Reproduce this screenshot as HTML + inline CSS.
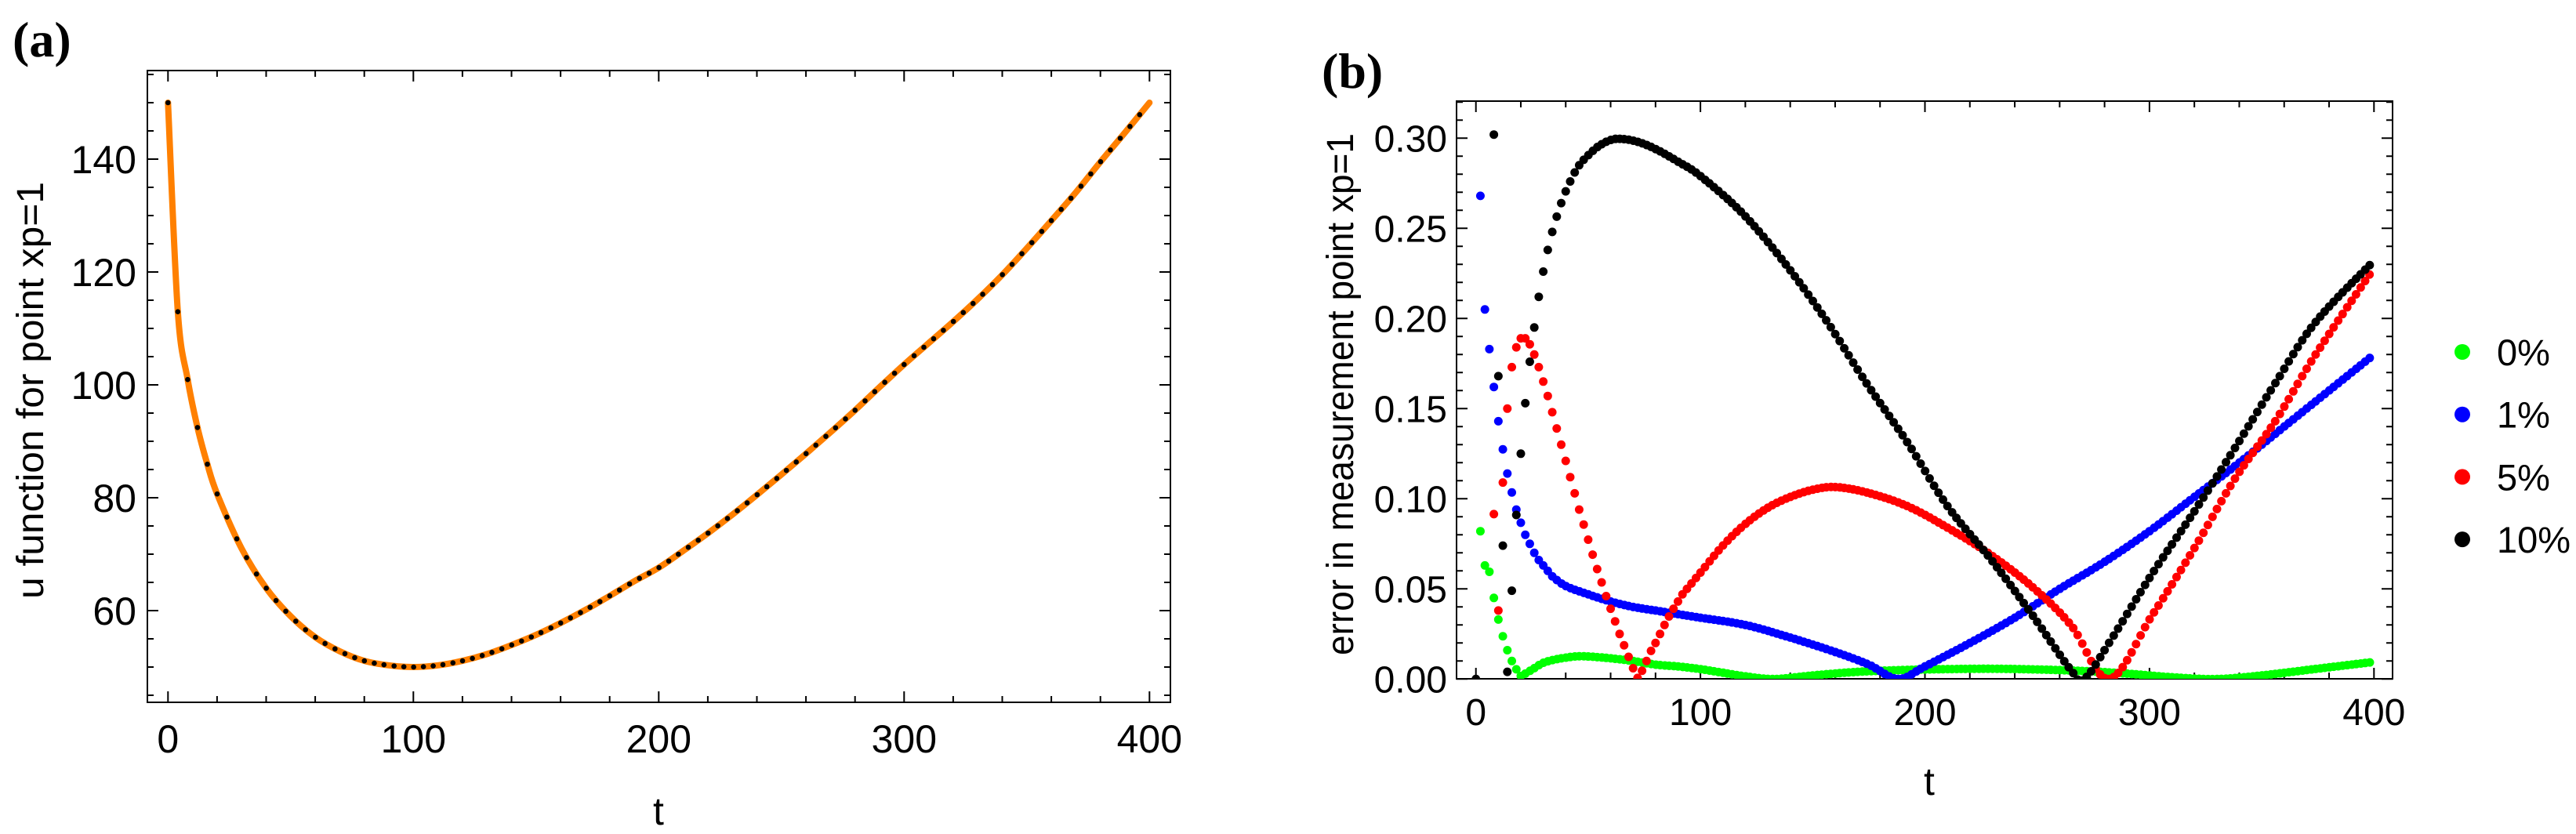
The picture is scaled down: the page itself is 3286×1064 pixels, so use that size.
<!DOCTYPE html>
<html><head><meta charset="utf-8">
<style>
html,body{margin:0;padding:0;background:#fff;}
svg{display:block;}
text{font-family:"Liberation Sans",sans-serif;fill:#000;}
</style></head>
<body>
<svg id="fig" width="3286" height="1064" viewBox="0 0 3286 1064" xmlns="http://www.w3.org/2000/svg">
  <text x="16" y="72" style="font-family:'Liberation Serif',serif;font-weight:bold;font-size:64px">(a)</text>
  <text x="1686" y="112" style="font-family:'Liberation Serif',serif;font-weight:bold;font-size:64px">(b)</text>
  <g id="chartA"></g>
  <g id="chartB"></g>
</svg>
<script>
// ---------- Chart A data ----------
const aT = [0,4,8,12,16,20,30,40,50,60,70,80,90,100,110,120,130,140,150,160,170,180,190,200,210,220,230,240,250,260,270,280,290,300,310,320,330,340,350,360,370,380,390,400];
const aU = [150,113,101,92.5,86,80.7,71,64,59,55.3,52.8,51.1,50.3,50,50.3,51.1,52.3,53.9,55.7,57.8,60.1,62.6,65.2,67.6,70.6,73.7,77,80.5,84.1,87.8,91.6,95.5,99.6,103.6,107.4,111.2,115.2,119.5,124.2,129.1,134.1,139.5,144.7,150];
const aXTicks = [0,100,200,300,400];
const aYTicks = [60,80,100,120,140];

// ---------- Chart B data ----------
const bGreenT = [2,4,6,8,10,12,14,16,18];
const bGreenV = [0.082,0.063,0.0595,0.045,0.033,0.0237,0.016,0.010,0.0054];
const bGreenCurveT = [20,22,26,30,36,44,50,60,70,80,90,100,110,120,133,150,170,190,210,230,250,270,290,310,330,350,370,390,400];
const bGreenCurveV = [0.0017,0.003,0.006,0.009,0.011,0.0125,0.0125,0.0115,0.010,0.008,0.007,0.0055,0.0035,0.0015,0.0,0.002,0.004,0.005,0.0055,0.0057,0.0053,0.0045,0.003,0.001,0.0,0.002,0.005,0.008,0.0095];

const bBlueT = [2,4,6,8,10,12,14,16,18,20,22,24,26,28,30,32];
const bBlueV = [0.268,0.205,0.183,0.162,0.143,0.1274,0.114,0.1035,0.094,0.0867,0.080,0.075,0.070,0.066,0.063,0.060];
const bBlueCurveT = [34,40,50,60,70,80,90,100,120,140,160,175,188,200,220,240,260,280,300,320,340,360,380,400];
const bBlueCurveV = [0.057,0.0516,0.047,0.043,0.040,0.038,0.036,0.034,0.030,0.023,0.015,0.008,0.0,0.007,0.020,0.034,0.050,0.065,0.082,0.101,0.120,0.140,0.160,0.180];

const bRedT = [8,10,12,14,16,18,20,22,24,26,28,30,32,34,36,38,40,42,44,46,48,50,52,54,56,58,60,62,64,66,68,70,72,74,76,78,80,82,84,86,88,90];
const bRedV = [0.0915,0.038,0.109,0.150,0.173,0.184,0.189,0.189,0.1857,0.180,0.173,0.165,0.157,0.148,0.139,0.130,0.121,0.112,0.103,0.094,0.0857,0.0773,0.069,0.061,0.0536,0.046,0.039,0.032,0.025,0.0187,0.0123,0.006,0.0006,0.0046,0.010,0.0156,0.020,0.025,0.030,0.0347,0.039,0.043];
const bRedCurveT = [92,100,110,120,130,140,150,160,174,192,210,228,247,265,282,301,320,338,356,374,400];
const bRedCurveV = [0.047,0.059,0.074,0.086,0.095,0.101,0.105,0.1065,0.1035,0.096,0.084,0.070,0.052,0.030,0.0,0.035,0.0726,0.111,0.143,0.180,0.228];

const bBlackT = [0,8,10,12,14,16,18,20,22,24,26,28,30,32,34,36,38,40,42,44,46];
const bBlackV = [0,0.302,0.168,0.074,0.004,0.049,0.091,0.125,0.153,0.176,0.195,0.212,0.226,0.238,0.248,0.2565,0.264,0.2705,0.276,0.281,0.285];
const bBlackCurveT = [48,54,60,65,72,80,90,100,119,138,156,174,192,210,229,247,265,271,283,301,320,338,356,374,400];
const bBlackCurveV = [0.288,0.295,0.299,0.2996,0.298,0.294,0.287,0.279,0.258,0.230,0.199,0.164,0.1316,0.096,0.067,0.037,0.005,0.0,0.022,0.058,0.093,0.128,0.164,0.198,0.232];

const bXTicks = [0,100,200,300,400];
const bYTicks = [0,0.05,0.10,0.15,0.20,0.25,0.30];
const bYTickLabels = ["0.00","0.05","0.10","0.15","0.20","0.25","0.30"];
const legendLabels = ["0%","1%","5%","10%"];
const legendColors = ["#00ff00","#0000ff","#ff0000","#000000"];

const NS = "http://www.w3.org/2000/svg";
function mk(tag, attrs, parent){const e=document.createElementNS(NS,tag);for(const k in attrs)e.setAttribute(k,attrs[k]);parent.appendChild(e);return e;}

function smoothPath(pts){
  let d = "M"+pts[0][0].toFixed(2)+","+pts[0][1].toFixed(2);
  for(let i=0;i<pts.length-1;i++){
    const p0=pts[Math.max(0,i-1)],p1=pts[i],p2=pts[i+1],p3=pts[Math.min(pts.length-1,i+2)];
    const c1=[p1[0]+(p2[0]-p0[0])/6,p1[1]+(p2[1]-p0[1])/6];
    const c2=[p2[0]-(p3[0]-p1[0])/6,p2[1]-(p3[1]-p1[1])/6];
    d+=" C"+c1[0].toFixed(2)+","+c1[1].toFixed(2)+" "+c2[0].toFixed(2)+","+c2[1].toFixed(2)+" "+p2[0].toFixed(2)+","+p2[1].toFixed(2);
  }
  return d;
}

// place markers along a rendered path at equal x-steps (sampling grid of the plotted curve)
function markersAlong(pathEl, xStep, r, fill, parent, name){
  const len = pathEl.getTotalLength();
  const start = pathEl.getPointAtLength(0);
  let nextX = start.x;
  let d = "";
  for(let s=0; s<=len; s+=0.5){
    const p = pathEl.getPointAtLength(s);
    if(p.x >= nextX - 0.01){
      d += `M${p.x.toFixed(2)},${p.y.toFixed(2)}h0`;
      nextX += xStep;
    }
  }
  const m = mk("path",{d:d,stroke:fill,"stroke-width":2*r,"stroke-linecap":"round",fill:"none"},parent);
  
  
  return m;
}

function frameAndTicks(g, L, T, R, B, xs, ys, xMajor, xMinorStep, xMin, xMax, yMajor, yMinorStep, yMin, yMax){
  const f = mk("rect",{x:L,y:T,width:R-L,height:B-T,fill:"none",stroke:"#000","stroke-width":2},g);
  
  
  let d="";
  for(let v=xMin; v<=xMax+1e-9; v+=xMinorStep){
    const x=xs(v); const major = xMajor.some(m=>Math.abs(m-v)<1e-6); const len=major?14:8;
    d+=`M${x},${B}v${-len}M${x},${T}v${len}`;
  }
  for(let k=Math.ceil(yMin/yMinorStep-1e-9); k*yMinorStep<=yMax+1e-9; k++){
    const v=k*yMinorStep; const y=ys(v); if(y<T-0.5||y>B+0.5) continue;
    const major = yMajor.some(m=>Math.abs(m-v)<1e-6); const len=major?14:8;
    d+=`M${L},${y}h${len}M${R},${y}h${-len}`;
  }
  const tk = mk("path",{d:d,stroke:"#000","stroke-width":2,fill:"none"},g);
  
  
}

// ---------- Chart A ----------
(function(){
  const g=document.getElementById("chartA");
  const L=188,T=90,R=1493,B=896;
  const xs=t=>214.3+t*3.13;
  const ys=v=>203-(v-140)*7.2;
  frameAndTicks(g,L,T,R,B,xs,ys,aXTicks,20,0,400,aYTicks,5,44,155);
  aXTicks.forEach(v=>{
    const t=mk("text",{x:xs(v),y:960,"text-anchor":"middle","font-size":50},g); t.textContent=v;
    
    
  });
  aYTicks.forEach(v=>{
    const t=mk("text",{x:174,y:ys(v)+18,"text-anchor":"end","font-size":50},g); t.textContent=v;
    
    
  });
  const xt=mk("text",{x:840,y:1052,"text-anchor":"middle","font-size":50},g); xt.textContent="t";
  
  
  const yt=mk("text",{x:0,y:0,"text-anchor":"middle","font-size":48,transform:"translate(55,498) rotate(-90)",textLength:532,lengthAdjust:"spacingAndGlyphs"},g); yt.textContent="u function for point xp=1";
  
  
  const pts=aT.map((t,i)=>[xs(t),ys(aU[i])]);
  const line=mk("path",{d:smoothPath(pts),fill:"none",stroke:"#ff8000","stroke-width":8,"stroke-linecap":"round"},g);
  
  
  markersAlong(line, 4*3.13, 3.3, "#000", g, 'u-sample-points');
})();

// ---------- Chart B ----------
(function(){
  const g=document.getElementById("chartB");
  const L=1858,T=129,R=3052,B=866;
  const xs=t=>1882.7+t*2.864;
  const ys=v=>866.3-v*2300;
  frameAndTicks(g,L,T,R,B,xs,ys,bXTicks,20,0,400,bYTicks,0.01,0,0.32);
  bXTicks.forEach(v=>{
    const t=mk("text",{x:xs(v),y:925,"text-anchor":"middle","font-size":48},g); t.textContent=v;
    
    
  });
  bYTicks.forEach((v,i)=>{
    const t=mk("text",{x:1846,y:ys(v)+17,"text-anchor":"end","font-size":48},g); t.textContent=bYTickLabels[i];
    
    
  });
  const xt=mk("text",{x:2461,y:1014,"text-anchor":"middle","font-size":50},g); xt.textContent="t";
  
  
  const yt=mk("text",{x:0,y:0,"text-anchor":"middle","font-size":48,transform:"translate(1726,503) rotate(-90)",textLength:666,lengthAdjust:"spacingAndGlyphs"},g); yt.textContent="error in measurement point xp=1";
  
  

  const defs=mk("defs",{},g);
  const cp=mk("clipPath",{id:"clipB"},defs);
  mk("rect",{x:L,y:T-10,width:R-L,height:B-T+10},cp);

  const series=[
    ["noise-0-series",bGreenT,bGreenV,bGreenCurveT,bGreenCurveV,legendColors[0]],
    ["noise-1-series",bBlueT,bBlueV,bBlueCurveT,bBlueCurveV,legendColors[1]],
    ["noise-5-series",bRedT,bRedV,bRedCurveT,bRedCurveV,legendColors[2]],
    ["noise-10-series",bBlackT,bBlackV,bBlackCurveT,bBlackCurveV,legendColors[3]]
  ];
  series.forEach(s=>{
    const sg=mk("g",{"clip-path":"url(#clipB)"},g);
    
    
    s[1].forEach((t,i)=>{
      const c=mk("circle",{cx:xs(t),cy:ys(s[2][i]),r:5.5,fill:s[5]},sg);
      
      
    });
    const pts=s[3].map((t,i)=>[xs(t),ys(s[4][i])]);
    const p=mk("path",{d:smoothPath(pts),fill:"none",stroke:"none"},sg);
    
    
    markersAlong(p, 2*2.864, 5.5, s[5], sg, 'dense-points');
  });

  legendLabels.forEach((lab,i)=>{
    const lg=mk("g",{},g);
    
    
    const y=449+i*79.7;
    const c=mk("circle",{cx:3141,cy:y,r:10,fill:legendColors[i]},lg);
    
    
    const t=mk("text",{x:3185,y:y+17,"font-size":47},lg); t.textContent=lab;
    
    
  });
})();
</script>
</body></html>
